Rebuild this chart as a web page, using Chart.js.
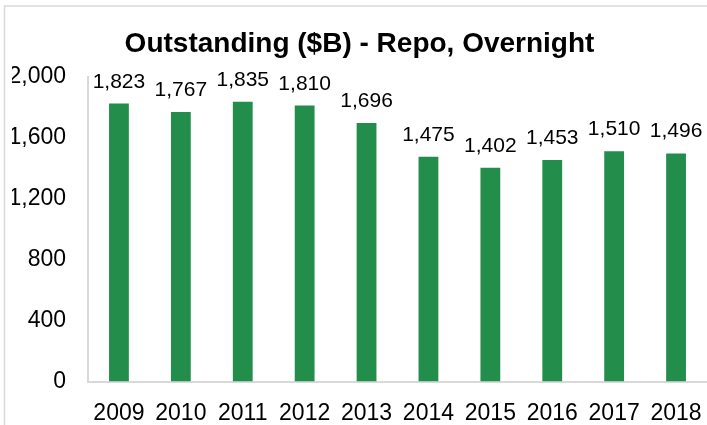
<!DOCTYPE html>
<html>
<head>
<meta charset="utf-8">
<script src="https://cdn.jsdelivr.net/npm/chart.js@4/dist/chart.umd.min.js"></script>
<style>
html,body{margin:0;padding:0;background:#fff;}
canvas{display:block;}
</style>
</head>
<body>
<canvas id="c" width="707" height="425"></canvas>
<script>
const categories = ['2009','2010','2011','2012','2013','2014','2015','2016','2017','2018'];
const values = [1823, 1767, 1835, 1810, 1696, 1475, 1402, 1453, 1510, 1496];
const yTicks = [0, 400, 800, 1200, 1600, 2000];
const titleText = 'Outstanding ($B) - Repo, Overnight';

const fmt = v => Number(v).toLocaleString('en-US');

const framePlugin = {
  id: 'frame',
  beforeDraw(chart) {
    const ctx = chart.ctx;
    ctx.save();
    ctx.fillStyle = '#ffffff';
    ctx.fillRect(0, 0, chart.width, chart.height);
    ctx.strokeStyle = '#d9d9d9';
    ctx.lineWidth = 1.5;
    ctx.beginPath();
    ctx.moveTo(4.5, chart.height);
    ctx.lineTo(4.5, 6);
    ctx.lineTo(chart.width, 6);
    ctx.stroke();
    ctx.restore();
  }
};

const labelPlugin = {
  id: 'barLabels',
  afterDatasetsDraw(chart) {
    const ctx = chart.ctx;
    const meta = chart.getDatasetMeta(0);
    ctx.save();
    ctx.font = '21px "Liberation Sans", Arial, sans-serif';
    ctx.fillStyle = '#000000';
    ctx.textAlign = 'center';
    ctx.textBaseline = 'alphabetic';
    meta.data.forEach((bar, i) => {
      ctx.fillText(fmt(chart.data.datasets[0].data[i]), bar.x, bar.y - 16);
    });
    ctx.restore();
  }
};

new Chart(document.getElementById('c'), {
  type: 'bar',
  data: {
    labels: categories,
    datasets: [{
      data: values,
      backgroundColor: '#238e4b',
      borderWidth: 0,
      barPercentage: 0.32,
      categoryPercentage: 1.0
    }]
  },
  options: {
    responsive: false,
    animation: false,
    devicePixelRatio: 1,
    layout: { padding: { left: 12, right: 0, top: 0, bottom: 0 } },
    plugins: {
      legend: { display: false },
      tooltip: { enabled: false },
      title: {
        display: true,
        text: titleText,
        color: '#000000',
        font: { family: '"Liberation Sans", Arial, sans-serif', size: 28, weight: 'bold', lineHeight: 1.2 },
        padding: { top: 27, bottom: 16 }
      }
    },
    scales: {
      x: {
        grid: { display: false, drawTicks: false },
        border: { display: true, color: '#d9d9d9', width: 2 },
        ticks: {
          color: '#000000',
          font: { family: '"Liberation Sans", Arial, sans-serif', size: 23 },
          padding: 18,
          maxRotation: 0,
          autoSkip: false
        },
        afterFit(scale) { scale.height = 43.5; scale.paddingLeft = 0; scale.paddingRight = 0; }
      },
      y: {
        min: 0,
        max: 2000,
        grid: { display: false, drawTicks: false },
        border: { display: true, color: '#d9d9d9', width: 2 },
        afterBuildTicks(scale) { scale.ticks = yTicks.map(v => ({ value: v })); },
        ticks: {
          color: '#000000',
          font: { family: '"Liberation Sans", Arial, sans-serif', size: 23 },
          padding: 22,
          callback: v => fmt(v)
        },
        afterFit(scale) { scale.width = 76; }
      }
    }
  },
  plugins: [framePlugin, labelPlugin]
});
</script>
</body>
</html>
